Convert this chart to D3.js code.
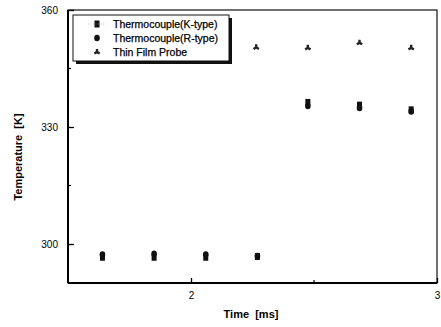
<!DOCTYPE html>
<html>
<head>
<meta charset="utf-8">
<script src="https://cdn.jsdelivr.net/npm/d3@7"></script>
<style>
  body { margin: 0; background: #fff; }
  svg { display: block; font-family: "Liberation Sans", Arial, sans-serif; }
</style>
</head>
<body>
<svg width="441" height="327"></svg>
<script>
// data
var timeK = [1.64, 1.85, 2.06, 2.27, 2.475, 2.685, 2.895];
var tempK = [296.6, 296.6, 296.6, 296.8, 336.3, 335.6, 334.4];
var timeR = [1.64, 1.85, 2.06, 2.27, 2.475, 2.685, 2.895];
var tempR = [297.3, 297.5, 297.3, 296.9, 335.4, 334.9, 334.0];
var timeFilm = [2.265, 2.475, 2.685, 2.895];
var tempFilm = [350.4, 350.3, 351.6, 350.3];
var xTicks = [2, 3];
var yTicks = [300, 330, 360];
var xMinor = [2.5];
var yMinor = [315, 345];
var legendNames = ["Thermocouple(K-type)", "Thermocouple(R-type)", "Thin Film Probe"];

var svg = d3.select("svg");
// plot box (pixels)
var pLeft = 68, pRight = 437, pTop = 10, pBottom = 283;

var x = d3.scaleLinear().domain([1.5, 3]).range([pLeft, pRight]);
var y = d3.scaleLinear().domain([290, 360]).range([pBottom, pTop]);

// frame
svg.append("rect")
    .attr("x", pLeft).attr("y", pTop)
    .attr("width", pRight - pLeft).attr("height", pBottom - pTop)
    .attr("fill", "none").attr("stroke", "#111").attr("stroke-width", 1.2);
svg.append("line").attr("x1", pLeft).attr("x2", pLeft).attr("y1", pTop).attr("y2", pBottom)
    .attr("stroke", "#000").attr("stroke-width", 2);
svg.append("line").attr("x1", pLeft).attr("x2", pRight).attr("y1", pBottom).attr("y2", pBottom)
    .attr("stroke", "#000").attr("stroke-width", 2);

// axes with inward ticks
var xAxis = d3.axisBottom(x).tickValues(xTicks).tickFormat(d3.format("d"))
    .tickSizeInner(-5).tickSizeOuter(0).tickPadding(9);
var gx = svg.append("g").attr("transform", "translate(0," + pBottom + ")").call(xAxis);
gx.select(".domain").remove();

var yAxis = d3.axisLeft(y).tickValues(yTicks).tickFormat(d3.format("d"))
    .tickSizeInner(-6).tickSizeOuter(0).tickPadding(10);
var gy = svg.append("g").attr("transform", "translate(" + pLeft + ",0)").call(yAxis);
gy.select(".domain").remove();

svg.selectAll(".tick text").attr("font-size", 10).attr("fill", "#000")
    .attr("font-family", "Liberation Sans, Arial, sans-serif");
svg.selectAll(".tick line").attr("stroke", "#000").attr("stroke-width", 1.3);

svg.selectAll(".xminor").data(xMinor).enter().append("line")
    .attr("x1", d => x(d)).attr("x2", d => x(d))
    .attr("y1", pBottom).attr("y2", pBottom - 3)
    .attr("stroke", "#000").attr("stroke-width", 1.2);
svg.selectAll(".yminor").data(yMinor).enter().append("line")
    .attr("x1", pLeft).attr("x2", pLeft + 3)
    .attr("y1", d => y(d)).attr("y2", d => y(d))
    .attr("stroke", "#000").attr("stroke-width", 1.2);

// axis titles
svg.append("text").attr("x", 251).attr("y", 318).attr("text-anchor", "middle")
    .attr("font-size", 11).attr("font-weight", "bold").attr("fill", "#000")
    .attr("xml:space", "preserve").text("Time  [ms]");
svg.append("text").attr("transform", "translate(22,157) rotate(-90)").attr("text-anchor", "middle")
    .attr("font-size", 11).attr("font-weight", "bold").attr("fill", "#000")
    .attr("xml:space", "preserve").text("Temperature  [K]");

// markers
function drawSquare(g, cx, cy) {
    g.append("rect").attr("x", cx - 2.5).attr("y", cy - 3.5)
        .attr("width", 5).attr("height", 7).attr("fill", "#111");
}
function drawCircle(g, cx, cy) {
    g.append("ellipse").attr("cx", cx).attr("cy", cy)
        .attr("rx", 2.8).attr("ry", 3.3).attr("fill", "#111");
}
var wye = d3.symbol().type(d3.symbolWye).size(20);
function drawFilm(g, cx, cy) {
    g.append("path").attr("d", wye())
        .attr("transform", "translate(" + cx + "," + cy + ") rotate(180)")
        .attr("fill", "#222");
}

var marks = svg.append("g");
timeK.forEach(function (t, i) { drawSquare(marks, x(t), y(tempK[i])); });
timeR.forEach(function (t, i) { drawCircle(marks, x(t), y(tempR[i])); });
timeFilm.forEach(function (t, i) { drawFilm(marks, x(t), y(tempFilm[i])); });

// legend
var lg = svg.append("g");
lg.append("rect").attr("x", 76).attr("y", 18).attr("width", 156).attr("height", 46).attr("fill", "#111");
lg.append("rect").attr("x", 73).attr("y", 15).attr("width", 156).attr("height", 46)
    .attr("fill", "#fff").attr("stroke", "#111").attr("stroke-width", 1);
var rowY = [24, 38, 52];
legendNames.forEach(function (name, i) {
    lg.append("text").attr("x", 113).attr("y", rowY[i] + 4)
        .attr("font-size", 10.5).attr("fill", "#000")
        .attr("stroke", "#000").attr("stroke-width", 0.25).text(name);
});
drawSquare(lg, 97, rowY[0]);
lg.append("line").attr("x1", 88).attr("x2", 106).attr("y1", rowY[0]).attr("y2", rowY[0])
    .attr("stroke", "#999").attr("stroke-width", 0.6).attr("stroke-dasharray", "1,1.5");
drawCircle(lg, 97, rowY[1]);
drawFilm(lg, 97, rowY[2]);
</script>
</body>
</html>
